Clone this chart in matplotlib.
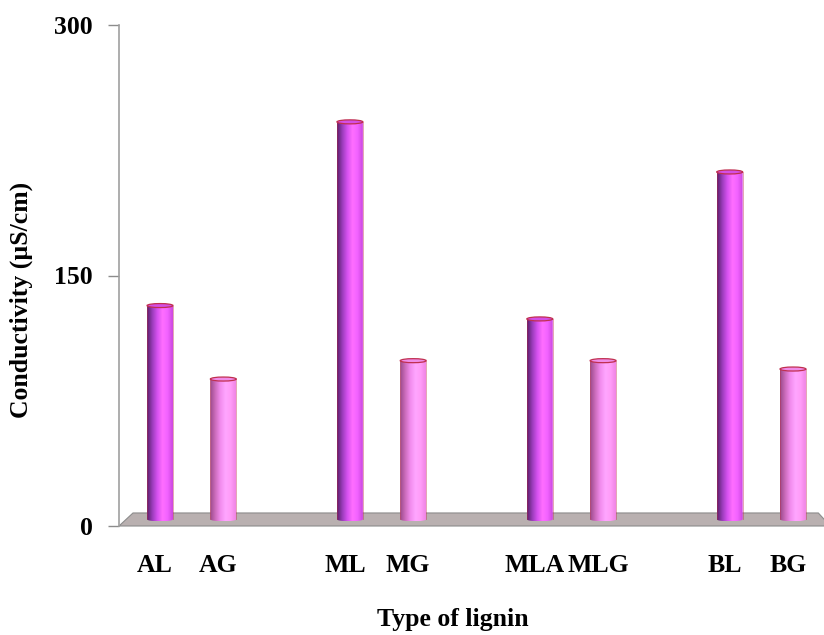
import numpy as np
import matplotlib
matplotlib.use("Agg")
import matplotlib.pyplot as plt
from matplotlib.patches import Polygon, Ellipse
from matplotlib.path import Path
from matplotlib.colors import to_rgb

# conductivity of each lignin sample (µS/cm)
labels = ["AL", "AG", "ML", "MG", "MLA", "MLG", "BL", "BG"]
values = [132, 88, 242, 99, 124, 99, 212, 94]
# slot on the category axis (empty slots separate the groups)
slots = [0, 1, 3, 4, 6, 7, 9, 10]
kinds = ["L", "G", "L", "G", "L", "G", "L", "G"]

yticks = [0, 150, 300]

plt.rcParams["font.family"] = ["Liberation Serif", "DejaVu Serif"]
plt.rcParams["font.weight"] = "bold"
fs = 18.5

fig = plt.figure(figsize=(8.24, 6.35), dpi=100)
ax = fig.add_axes([119 / 824, 1 - 526 / 635, 1 - 119 / 824, (526 - 25) / 635])

xmin, xmax = -0.648, 10.49
ax.set_xlim(xmin, xmax)
ax.set_ylim(0, 300)

# shading stops across the cylinder (left dark edge -> highlight -> right edge)
shades = {
    "L": ["#5a1f6a", "#9a3cba", "#d652f0", "#ff6eff", "#f262ff", "#cc48e0"],
    "G": ["#9a4a8a", "#cc6cbc", "#f28cee", "#ffa6ff", "#ff9cf8", "#f084e4"],
}
tops = {"L": "#d44ee6", "G": "#f08ce8"}
edge = "#c03050"

half_w = 0.205          # half width of a cylinder in slot units
base = 4.0              # cylinders stand in the middle of the floor
cap_h = 1.2             # vertical semi-axis of the elliptical ends


def gradient(stops, n=64):
    cols = np.array([to_rgb(c) for c in stops])
    xs = np.linspace(0, 1, len(cols))
    t = np.linspace(0, 1, n)
    img = np.stack([np.interp(t, xs, cols[:, k]) for k in range(3)], axis=-1)
    return img[np.newaxis, :, :]


# grey floor
floor_depth = 7.8
dx = 14 / 63.3
floor = Polygon([(xmin, 0), (xmin + dx, floor_depth), (xmax - 0.09, floor_depth),
                 (xmax + 0.1, 0)], closed=True, facecolor="#b9b0b0",
                edgecolor="#8c8c8c", lw=0.8, clip_on=False, zorder=1)
ax.add_patch(floor)

for s, v, k in zip(slots, values, kinds):
    x0, x1 = s - half_w, s + half_w
    verts = [(x0, v)] + [(s - half_w * np.cos(a), base - cap_h * np.sin(a))
                         for a in np.linspace(0, np.pi, 40)] + [(x1, v), (x0, v)]
    body = Path(verts, closed=True)
    im = ax.imshow(gradient(shades[k]), extent=[x0, x1, base - cap_h, v],
                   aspect="auto", interpolation="bilinear", zorder=3)
    im.set_clip_path(body, transform=ax.transData)
    ax.plot([x0, x0], [base, v], color=edge, lw=0.6, alpha=0.5, zorder=4)
    ax.plot([x1, x1], [base, v], color=edge, lw=0.6, alpha=0.5, zorder=4)
    ax.add_patch(Ellipse((s, v), 2 * half_w, 2 * cap_h, facecolor=tops[k],
                         edgecolor=edge, lw=0.9, zorder=5))

ax.set_yticks(yticks)
ax.set_yticklabels([str(t) for t in yticks], fontsize=fs, fontweight="bold")
ax.tick_params(axis="y", length=8, color="#8c8c8c", pad=11, width=1)
ax.set_xticks([s - 0.08 for s in slots])
ax.set_xticklabels(labels, fontsize=fs, fontweight="bold")
ax.tick_params(axis="x", length=0, pad=20)

for side in ["top", "right", "bottom"]:
    ax.spines[side].set_visible(False)
ax.spines["left"].set_color("#a0a0a0")
ax.spines["left"].set_linewidth(1.2)

ax.set_ylabel("Conductivity (µS/cm)", fontsize=fs, fontweight="bold")
ax.yaxis.set_label_coords(-0.122, 0.451)
ax.set_xlabel("Type of lignin", fontsize=fs, fontweight="bold")
ax.xaxis.set_label_coords(0.474, -0.164)

fig.savefig("out.png", dpi=100)
